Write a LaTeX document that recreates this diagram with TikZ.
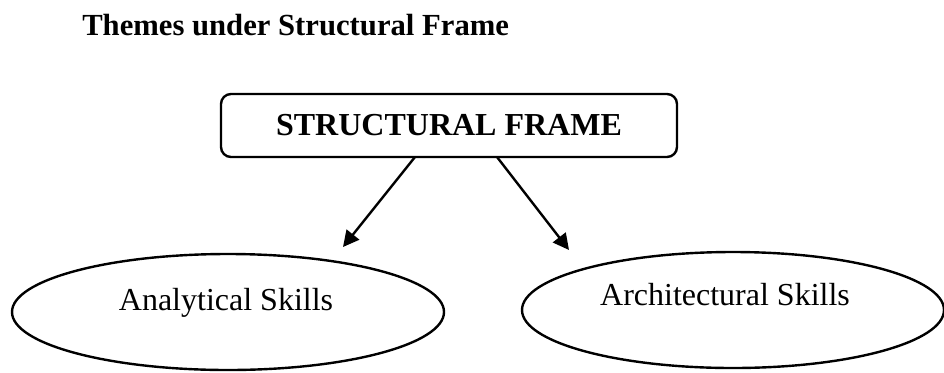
\documentclass[tikz,border=0pt]{standalone}
\usepackage{fontspec}
\setmainfont{Liberation Serif}
\usetikzlibrary{shapes.geometric,arrows.meta}

\tikzset{
  px/.style={x=0.75pt,y=-0.75pt},
  heading/.style={font=\fontsize{23}{27}\selectfont\bfseries,inner sep=0pt,anchor=base west},
  framebox/.style={draw,line width=1.8pt,rounded corners=7.5pt,inner sep=0pt,
    minimum width=342pt,minimum height=47.25pt,font=\fontsize{24}{28}\selectfont\bfseries},
  skilloval/.style={draw,ellipse,line width=1.8pt,inner sep=0pt},
  skilltext/.style={font=\fontsize{24}{28}\selectfont,inner sep=0pt,anchor=base},
  link/.style={line width=1.8pt,-{Triangle[length=12pt,width=12pt]}}
}

\begin{document}
\begin{tikzpicture}[px]
  \useasboundingbox (0,0) rectangle (944,372);

  \node[heading] (title) at (82,35) {Themes under Structural Frame};

  \node[framebox] (frame) at (449,125.5) {STRUCTURAL FRAME};

  \node[skilloval,minimum width=324pt,minimum height=87pt] (analytic) at (228,312) {};
  \node[skilltext] (analytictext) at (226,310) {Analytical Skills};

  \node[skilloval,minimum width=316.5pt,minimum height=87pt] (architect) at (733,310) {};
  \node[skilltext] (architecttext) at (725,305) {Architectural Skills};

  % arrow ends just above the two ovals
  \coordinate (leftfoot) at (415,157);
  \coordinate (lefttip) at (343,247);
  \coordinate (rightfoot) at (497,157);
  \coordinate (righttip) at (569,250);

  \draw[link] (leftfoot) -- (lefttip);
  \draw[link] (rightfoot) -- (righttip);
\end{tikzpicture}
\end{document}
